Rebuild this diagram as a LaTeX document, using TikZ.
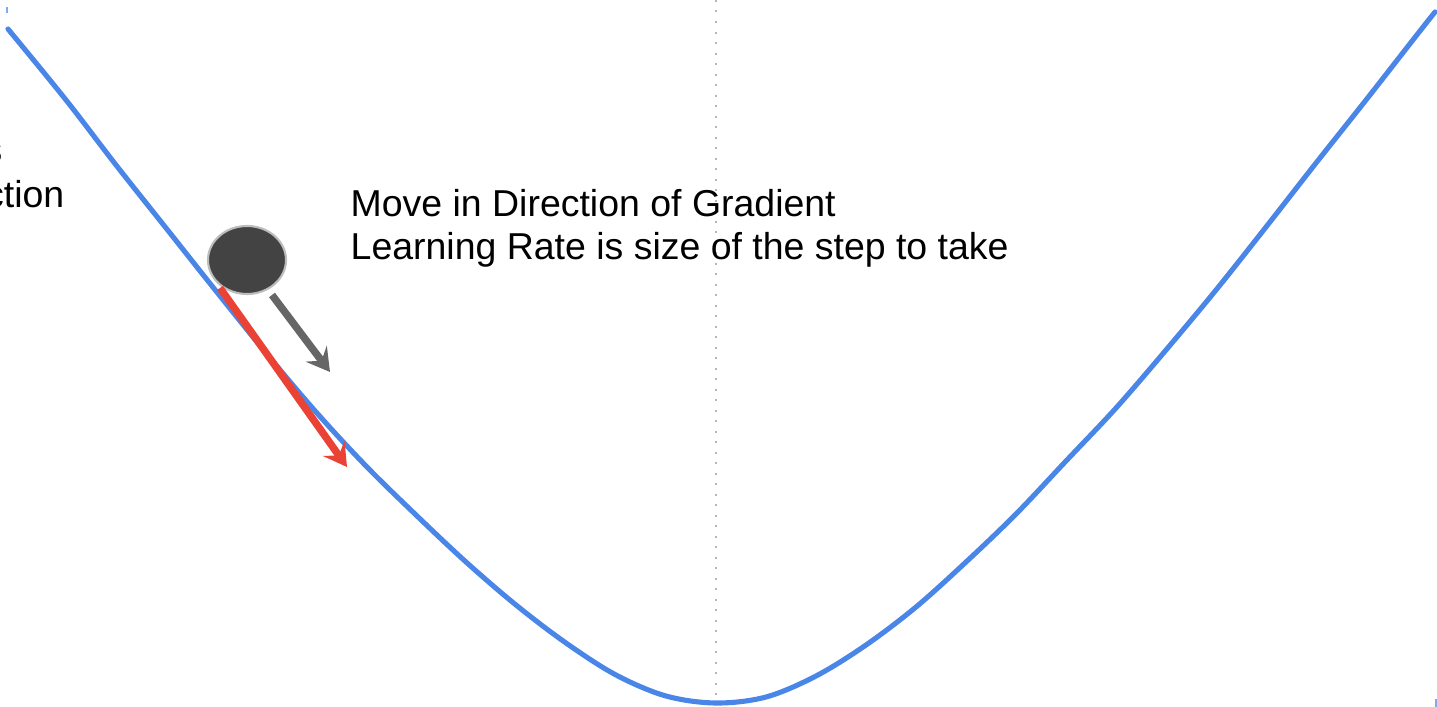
\documentclass[tikz,border=0pt]{standalone}
\usepackage{fontspec}
\setmainfont{Liberation Sans}
\usepackage{tikz}
\usetikzlibrary{arrows.meta, shapes.geometric}

\definecolor{curveblue}{HTML}{4A86E8}
\definecolor{stepred}{HTML}{EA4335}
\definecolor{pushgray}{HTML}{666666}
\definecolor{ballfill}{HTML}{434343}
\definecolor{ballrim}{HTML}{BDBDBD}
\definecolor{axisgray}{HTML}{B7B7B7}

\begin{document}
\begin{tikzpicture}[x=0.01cm, y=-0.01cm, >=Stealth,
    every node/.style={inner sep=0pt, font=\fontsize{10.65}{12.3}\selectfont}]
    \useasboundingbox (0,0) rectangle (1437,707);
    % minimum axis
    \coordinate (T) at (716,0);
    \coordinate (B) at (716,703);
    \draw[axisgray, line width=0.6pt, dash pattern=on 0.02cm off 0.085cm] (T) -- (B);
    % loss curve
    \draw[curveblue, line width=1.45pt, line cap=round] plot[smooth, tension=0.55] coordinates {
        (8,29) (66,100) (116,165) (166,228) (216,291) (266,353) (316,412)
        (366,466) (416,515) (466,562) (516,605) (566,643) (616,675) (666,696)
        (716,703)
        (766,697) (816,676) (866,645) (916,607) (966,562) (1016,514) (1066,461)
        (1116,408) (1166,350) (1216,290) (1266,227) (1316,163) (1366,100)
        (1416,36) (1435,12)};
    % small marks at the corners
    \draw[curveblue!70, line width=0.4pt] (7,7) -- (7,13);
    \draw[curveblue!70, line width=0.4pt] (1436,699) -- (1436,707);
    % ball and the two steps
    \node[ellipse, draw=ballrim, line width=0.6pt, fill=ballfill,
        minimum width=0.78cm, minimum height=0.68cm] (ball) at (247,260) {};
    \coordinate (R0) at (220,288);
    \coordinate (R1) at (347,467);
    \coordinate (G0) at (272,295);
    \coordinate (G1) at (330,372);
    \draw[-{Stealth[length=6.5pt, width=7.5pt, inset=2.5pt]}, line width=2.1pt, stepred] (R0) -- (R1);
    \draw[-{Stealth[length=6.5pt, width=7.5pt, inset=2.5pt]}, line width=2.1pt, pushgray] (G0) -- (G1);
    % labels
    \node[anchor=base west] (move) at (350,217) {Move in Direction of Gradient};
    \node[anchor=base west] (rate) at (350,260) {Learning Rate is size of the step to take};
    \node[anchor=base east] (sideA) at (3,163) {s};
    \node[anchor=base east] (sideB) at (65,208) {ction};
\end{tikzpicture}
\end{document}
